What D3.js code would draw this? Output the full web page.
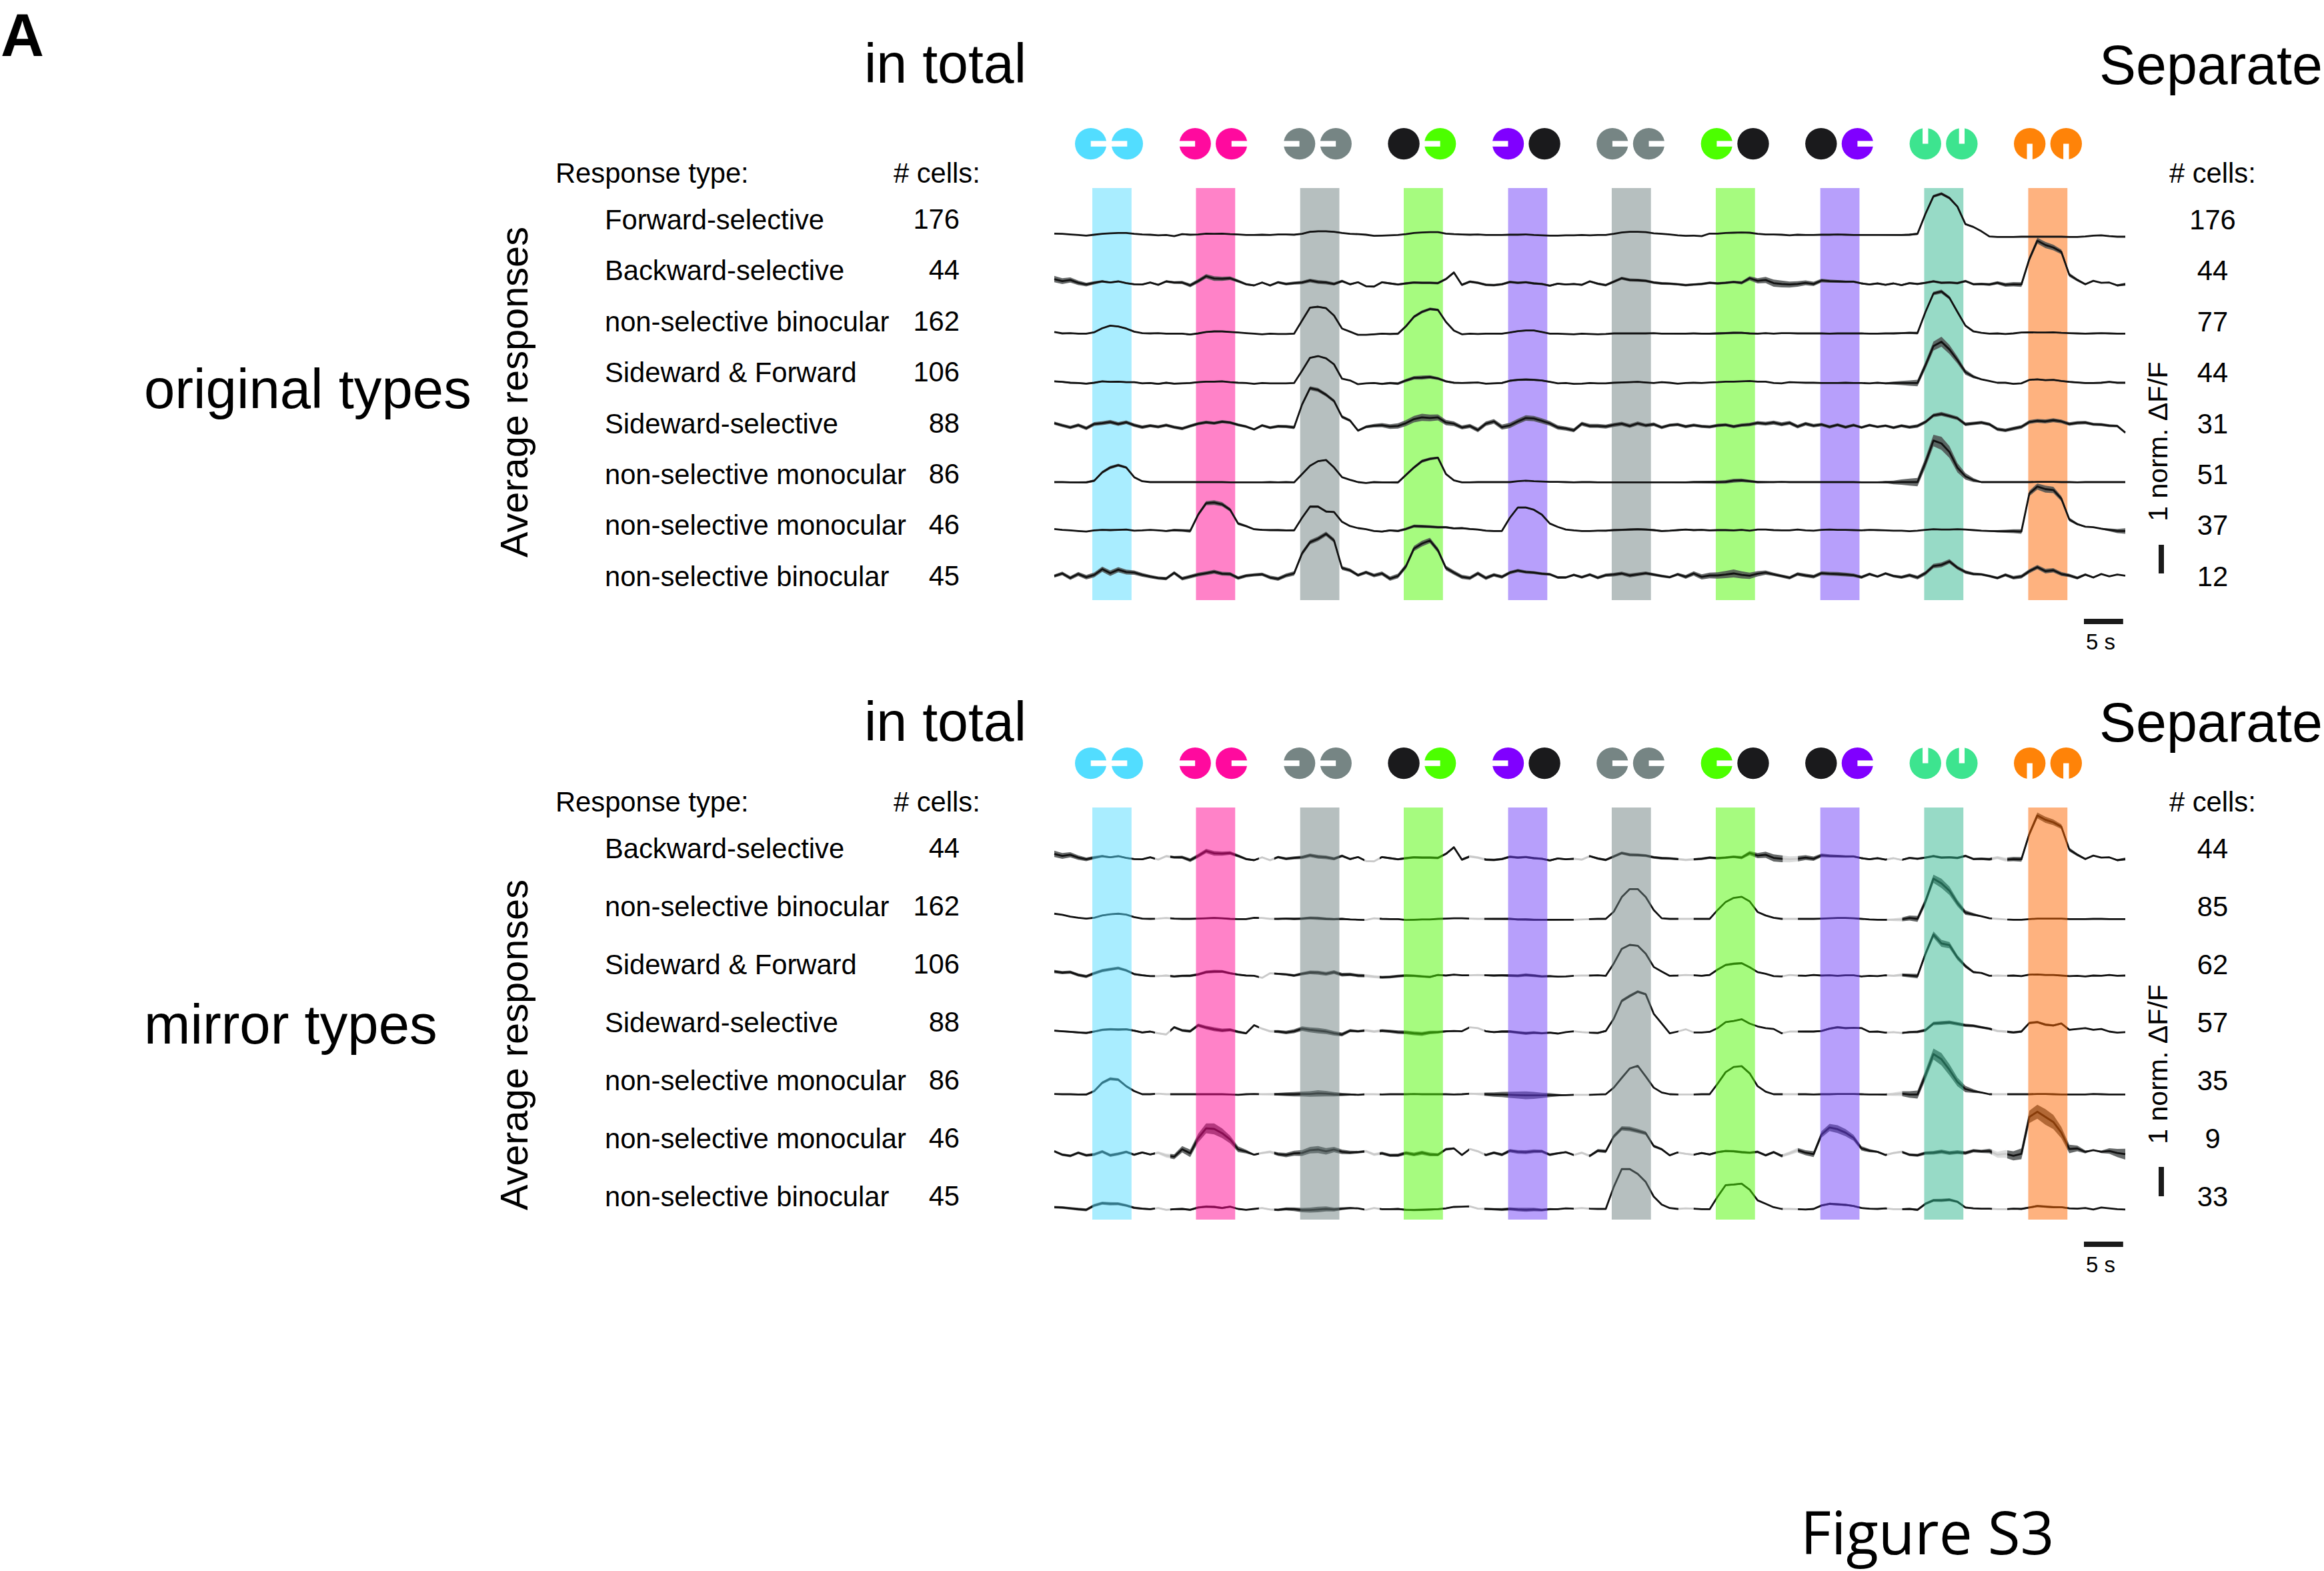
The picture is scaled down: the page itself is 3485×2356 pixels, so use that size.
<!DOCTYPE html>
<html>
<head>
<meta charset="utf-8">
<title>Figure S3</title>
<script src="https://cdn.jsdelivr.net/npm/d3@7"></script>
<style>
  body { margin: 0; background: #fff; }
  text { font-family: "Liberation Sans", Arial, sans-serif; fill: #000; }
</style>
</head>
<body>
<div id="viz"></div>
<script>
// stimulus timing, seconds from the start of the trace
const stimOnsets = [4.85, 18.07, 31.36, 44.57, 57.88, 71.1, 84.37, 97.7, 110.95, 124.22];
const stimDuration = 5;
const spliceOnsets = [12.84, 26.1, 39.55, 52.9, 66.25, 79.6, 92.9, 106.2, 119.6];
const spliceDuration = 1.95;
const sampleInterval = 136.6 / 134;

// left / right disc colour and slot direction per stimulus
const bandColors = ['#53dbff', '#ff0591', '#6d7f7f', '#4df700', '#6f3ff7', '#6d7f7f', '#4df700', '#6f3ff7', '#2fb58d', '#fd6500'];
const leftDiscColors = ['#52ddff', '#ff0a9e', '#768584', '#1a1a1c', '#8000ff', '#768584', '#4cff00', '#1a1a1c', '#3de48f', '#ff8308'];
const rightDiscColors = ['#52ddff', '#ff0a9e', '#768584', '#4cff00', '#1a1a1c', '#768584', '#1a1a1c', '#8000ff', '#3de48f', '#ff8308'];
const leftSlots = ['r', 'l', 'l', null, 'l', 'r', 'r', null, 'u', 'd'];
const rightSlots = ['l', 'r', 'l', 'l', null, 'r', null, 'r', 'u', 'd'];

const originalTypes = ['Forward-selective', 'Backward-selective', 'non-selective binocular', 'Sideward & Forward', 'Sideward-selective', 'non-selective monocular', 'non-selective monocular', 'non-selective binocular'];
const originalTotals = [176, 44, 162, 106, 88, 86, 46, 45];
const originalSeparate = [176, 44, 77, 44, 31, 51, 37, 12];
const mirrorTypes = ['Backward-selective', 'non-selective binocular', 'Sideward & Forward', 'Sideward-selective', 'non-selective monocular', 'non-selective monocular', 'non-selective binocular'];
const mirrorTotals = [44, 162, 106, 88, 86, 46, 45];
const mirrorSeparate = [44, 85, 62, 57, 35, 9, 33];

// mean responses, 1/100 norm. dF/F, one row per stimulus after the 5 lead-in samples
const origForward = [4, 3, 1, -1, -3,
  0, 3, 5, 6, 6, 3, 1, 0, -2, -1, -5, 2, 0,
  1, 4, 3, 4, 2, 1, -1, -1, 0, -1, 1, 1, 0,
  3, 10, 12, 12, 10, 6, 3, 2, 0, -4, -3, -2, -1,
  2, 6, 8, 9, 9, 4, 2, 1, 0, 1, -1, -1, -1,
  0, 0, 1, -1, -2, -3, -3, -2, -2, -1, -2, -1, -1,
  3, 8, 10, 10, 9, 5, 3, 1, -2, -4, -3, -5, 4,
  4, 6, 7, 8, 7, 3, 1, 1, 0, -2, 0, -1, -1,
  0, 0, 1, 0, -1, -1, -1, -1, -1, -1, -1, 0, 3,
  73, 134, 143, 128, 98, 37, 27, 12, -6, -8, -8, -8, -7,
  -7, -7, -7, -7, -7, -8, -8, -6, -3, -2, -5, -7, -7];
const origBackward = [15, 8, 12, 2, -4,
  2, 7, 3, 7, 1, -3, -4, 3, -5, 7, 3, 3, -7,
  8, 25, 17, 16, 18, 8, -3, -7, 3, -7, 4, -2, 1,
  3, 10, 5, 3, -2, 8, -3, 4, -10, -11, 4, 0, -4,
  0, 3, 2, 2, 1, 15, 38, -5, 6, 2, -5, -6, -3,
  5, 2, 4, 0, -2, -8, -1, -4, -2, -5, 7, -1, -6,
  6, 18, 12, 11, 9, 3, 0, -1, -3, -6, -4, -2, 2,
  0, 2, 5, 2, 18, 9, 12, 1, -2, -4, -2, 2, -2,
  10, 8, 7, 6, 6, 0, -4, 0, -5, 0, -6, 1, -2,
  2, 7, 2, 3, 1, 8, -3, -2, -4, 2, -5, -3, -4,
  85, 149, 134, 125, 110, 30, 12, -3, 9, 2, 3, -7, -3];
const origBinocularA = [5, 0, 1, -1, -1,
  4, 18, 27, 24, 17, 6, 1, 0, 1, -1, -1, -1, -4,
  0, 5, 7, 7, 5, 3, 1, -1, -3, -1, -2, -2, -1,
  45, 90, 93, 88, 62, 17, 6, -5, -5, -3, -1, -2, -1,
  25, 58, 75, 85, 82, 40, 10, -3, -1, -2, -1, -1, -1,
  3, 8, 10, 10, 5, -1, -1, -2, -3, -1, -2, -3, -2,
  0, 0, 0, 0, 0, 1, -1, -1, -1, -1, 0, -1, -1,
  0, 1, 2, 2, 0, -1, 1, -1, 1, 1, 0, 0, 0,
  0, -1, 0, 0, 0, 0, -1, -1, 0, 0, 1, 2, 1,
  75, 139, 146, 124, 75, 27, 7, 2, -1, 0, -2, 0, 3,
  4, 3, 3, 4, 2, 1, 0, -1, 0, 1, 0, -1, -1];
const origSideForward = [5, 3, 0, -1, -3,
  0, 5, 3, 4, 2, 2, -2, -1, -4, 0, -3, -2, -1,
  2, 4, 4, 5, 2, 0, -1, -4, -1, -2, -2, -2, -1,
  42, 87, 93, 85, 64, 14, 8, -5, -2, -1, -4, -1, -3,
  8, 17, 18, 20, 15, 5, 0, -1, 0, 1, -3, -2, -1,
  7, 10, 11, 10, 8, 3, -2, -1, -4, -3, -1, -2, -2,
  0, 1, 2, 3, 1, -1, 2, 0, -3, -1, 0, -1, 1,
  2, 4, 4, 5, 6, 4, 4, -1, -2, 2, 1, 0, 0,
  -1, -1, -1, 0, -1, -1, -2, 0, -2, -1, -1, -1, -1,
  61, 128, 143, 116, 79, 37, 21, 12, 6, 0, 0, -4, -2,
  10, 12, 9, 10, 6, 3, 1, -1, -1, 0, 3, 0, 0];
const origSideward = [8, 0, -7, 1, -10,
  5, 8, 12, 5, 11, 1, -6, -1, -5, 1, -6, -11, -2,
  6, 11, 8, 13, 10, 2, -4, -14, 0, -8, -3, -4, -7,
  73, 130, 124, 107, 85, 30, 17, -18, -5, -1, 1, -4, -2,
  8, 22, 28, 26, 28, 10, 6, -7, -2, -16, 6, 14, -6,
  0, 14, 26, 24, 16, 7, -7, -11, -17, 6, -2, -2, -4,
  2, 6, -2, 7, 0, 4, -7, 1, 3, -4, 1, -3, -5,
  0, 2, -4, 1, 3, 9, 6, 10, 4, 9, -4, 6, -1,
  3, -5, 2, -6, 1, -7, 1, -5, -1, -8, -1, -6, -2,
  12, 35, 40, 33, 25, 4, 7, 10, 4, -13, -17, -11, -5,
  12, 16, 14, 18, 14, 5, 9, 10, 4, 3, -1, -2, -25];
const origMonocularA = [0, 0, -1, -1, -1,
  5, 34, 51, 59, 51, 17, 3, 0, 0, 0, 0, 0, 0,
  0, 0, 0, 0, -1, -1, -1, -1, -1, 0, -1, 0, -1,
  28, 57, 73, 77, 51, 17, 8, 0, -3, 0, -1, -1, -1,
  25, 51, 73, 81, 85, 28, 6, -1, -1, 0, 0, 0, 0,
  0, 3, 5, 3, 2, 1, 1, 0, -1, 0, 0, -1, -1,
  -1, -1, -1, -1, -1, -1, -1, -1, -1, -1, 0, 0, 0,
  0, 1, 5, 6, 3, 0, 0, 0, 1, 0, 0, 0, 0,
  0, 0, 0, 0, 0, -1, -1, -1, 0, -1, 0, 0, 0,
  68, 145, 135, 105, 50, 20, 7, 0, 0, 0, 0, 0, 0,
  0, 1, 1, 1, 0, 0, -1, 0, 0, 0, 0, 0, 0];
const origMonocularB = [4, 1, -1, -3, -5,
  -1, 1, 0, 1, 2, -2, -1, 1, -1, -3, 0, -1, -3,
  54, 94, 96, 90, 71, 23, 14, 3, 1, 0, 0, -1, -1,
  43, 82, 82, 65, 63, 29, 14, 7, 3, -3, -5, -1, -3,
  4, 14, 13, 12, 10, 10, 6, 7, 4, 2, -2, -3, -3,
  43, 79, 79, 71, 54, 23, 11, 2, -1, -3, -3, -2, -2,
  0, 1, 2, 3, 2, 0, -3, -2, 0, 2, 0, 1, -1,
  0, 0, -1, 1, -2, 2, 2, 0, -1, -1, 2, -1, -2,
  1, 2, 1, 1, 0, -1, 1, 0, -1, -2, -2, -4, -2,
  1, 3, 2, 2, 3, 2, 0, -2, -3, -4, -4, -4, -5,
  128, 152, 143, 140, 110, 37, 21, 12, 10, 5, 1, -3, -3];
const origBinocularB = [-2, 7, -9, 5, -6,
  2, 22, 8, 20, 12, 10, 2, -4, -9, -11, 9, -11, -4,
  3, 8, 13, 6, 5, -9, -1, 2, 4, -7, -12, 0, 7,
  77, 116, 128, 145, 122, 26, 18, 1, 11, 0, 7, -11, -2,
  32, 94, 111, 122, 88, 26, 10, -5, -9, 7, -9, 2, -5,
  10, 17, 12, 10, 6, 4, -7, -7, 2, -6, 3, -8, 1,
  3, 7, 0, 4, 8, 3, -2, -6, 4, -5, 7, -5, 0,
  0, 3, 7, 2, -1, 6, 10, 4, -2, -8, 5, 0, -4,
  8, 6, 5, 3, 1, -6, 5, -4, 7, -2, -6, 1, -7,
  8, 33, 37, 49, 27, 12, 5, 4, -2, -9, 2, -8, -4,
  15, 29, 15, 18, 5, 0, -9, 3, -7, 5, -3, 3, -1];

const mirrorBinocularA = [18, 14, 8, 4, 1,
  4, 12, 16, 18, 15, 6, 1, 0, 1, 3, 1, 0, 0,
  1, 2, 3, 2, 0, -1, -1, 4, 3, 0, 0, 1, 0,
  1, 3, 2, 0, -1, 0, -2, -3, -4, 2, 0, -1, -1,
  -4, -3, -2, -2, 0, 1, 2, 2, 1, 0, 0, 0, 0,
  0, -2, -2, -3, -3, -3, -3, -3, -3, -2, -1, 0, 0,
  25, 76, 104, 104, 76, 31, 2, 0, 0, 0, 0, 0, 0,
  31, 59, 73, 77, 61, 24, 12, 4, 0, 0, 0, 0, 0,
  1, 2, 3, 3, 2, 0, -2, -3, -3, -3, -2, 3, 0,
  61, 140, 124, 98, 55, 22, 15, 9, 2, 0, -2, -3, -3,
  -1, 1, 1, 1, 1, -1, -1, -1, 0, 0, -1, -1, -1];
const mirrorSideForward = [14, 10, 12, 2, -3,
  8, 17, 22, 26, 18, 5, 1, -2, -2, 0, -3, -1, -1,
  4, 12, 14, 14, 8, 3, 0, -1, -8, 8, 6, 4, 0,
  6, 11, 10, 6, 12, 3, 4, 0, -1, -4, -6, -5, -2,
  0, -1, -3, -5, 2, 0, 3, 1, 1, 2, 1, 0, 1,
  0, -1, 2, 0, -3, -2, -4, -3, -1, 0, 0, 1, -1,
  42, 93, 107, 104, 76, 30, 14, -1, 0, 2, 1, -1, 2,
  21, 37, 41, 43, 29, 12, 6, -2, -3, 2, 0, -1, 2,
  0, 1, -1, 1, 1, -3, -1, -2, 1, -1, 2, 0, -2,
  76, 143, 112, 106, 63, 33, 12, 9, -1, 0, -1, 0, -2,
  3, 4, 2, 2, 0, -2, -1, -3, 0, -1, 2, -1, 0];
const mirrorSideward = [3, 1, -1, -3, -5,
  0, 6, 8, 7, 8, 3, -3, 0, -6, -10, 15, 4, 1,
  22, 14, 8, 4, 6, -1, -6, 22, 10, 1, 0, -3, 1,
  10, 6, 3, 0, -6, -10, 3, 1, 4, 0, 3, 1, -2,
  -3, -6, -8, -3, -2, 1, 2, 1, 15, 12, 1, -2, 0,
  0, -3, -6, -4, -6, -4, -7, -2, 1, -2, -4, -5, 2,
  45, 107, 124, 139, 130, 62, 28, -6, 0, 8, -3, -3, -1,
  12, 33, 37, 43, 28, 18, 12, 9, -6, 0, 0, 0, 0,
  2, 10, 15, 12, 13, 12, -1, 0, -4, -2, -5, -2, -1,
  5, 28, 30, 32, 27, 22, 20, 15, 10, 2, 0, -3, 0,
  30, 33, 24, 21, 28, 6, 9, 12, 6, 9, 0, -4, -2];
const mirrorMonocularA = [1, 0, 0, -1, -1,
  11, 40, 54, 51, 28, 11, 0, 0, 2, 0, 0, 0, 0,
  0, 0, 0, 0, -1, -2, 0, 1, 0, 0, 0, 0, 0,
  1, 1, 3, 2, 0, -1, -1, -2, 0, 0, -1, 0, 0,
  0, 1, 0, 0, 0, 0, -1, 0, 2, 1, 0, -1, -1,
  -2, -3, -4, -4, -4, -3, -3, -3, -2, -2, -2, -1, 0,
  23, 57, 90, 99, 62, 23, 6, 0, -1, -1, -1, 0, 0,
  37, 77, 95, 98, 73, 28, 9, 0, 0, 0, 0, 0, -1,
  0, 0, 1, 1, 1, 0, -1, -1, -1, 0, 2, -1, -1,
  67, 140, 122, 85, 43, 18, 11, 6, 0, 0, 0, 0, 0,
  0, 1, 1, 0, -1, -1, -1, -1, 1, 0, -1, -1, -1];
const mirrorMonocularB = [8, -4, -8, 3, -6,
  -3, 7, -6, -1, 6, -4, 4, -3, 3, -7, -11, 15, 1,
  54, 88, 86, 71, 49, 15, 7, -4, 2, 6, -2, -5, 1,
  2, 12, 14, 8, 14, 6, 4, 5, 8, -3, 1, -6, -6,
  2, -3, 3, -3, -4, 15, 18, -5, 16, 8, -5, 3, -4,
  10, 6, 5, 8, 8, -4, 1, 5, -5, 3, -8, 10, 8,
  60, 88, 86, 79, 71, 26, 15, -6, 4, -1, -4, 2, -3,
  5, 9, 8, 5, 3, 6, -6, 5, -8, 1, 12, 3, -2,
  67, 91, 85, 73, 55, 18, 10, 6, -5, 2, 6, -4, -6,
  2, 3, 7, 2, 5, 2, 10, 8, 9, -4, -1, -8, -1,
  128, 146, 128, 110, 73, 16, 18, 6, 12, 6, 9, 2, -2];
const mirrorBinocularB = [6, 5, 2, -1, -3,
  12, 20, 18, 18, 12, 4, 1, -1, 3, -3, -1, 0, -3,
  5, 8, 7, 3, 8, 0, -3, 0, 3, -2, -3, 0, -1,
  -4, -4, -2, 0, -2, 1, 3, 2, -3, 3, -1, -1, 0,
  -3, -4, -3, -2, -1, 2, 7, 8, 9, 1, 0, -1, -2,
  0, -2, -3, -2, -4, -1, -1, 2, 1, 3, 1, 0, 0,
  77, 139, 139, 122, 94, 43, 15, 3, 0, 2, 1, -1, -1,
  43, 83, 85, 88, 67, 30, 18, 6, 0, 0, -1, -2, 0,
  12, 18, 16, 14, 10, 3, 1, 0, 2, -1, -1, 0, -3,
  18, 30, 30, 32, 25, 5, 2, 1, 1, -1, -1, 1, 0,
  5, 10, 8, 6, 6, 2, 1, 3, -2, 5, 2, -1, -2];

// s.e.m. half widths: lead-in, then stimulus / gap for each of the 10 stimuli
const seForward = [1, 1, 1, 1, 1, 2, 1, 1, 1, 1, 1, 1, 1, 1, 1, 1, 1, 4, 1, 1, 1];
const seBackward = [8, 2, 2, 6, 2, 5, 2, 3, 3, 3, 2, 4, 3, 3, 9, 3, 2, 3, 3, 8, 2];
const seBinocularA = [1, 2, 1, 2, 1, 2, 1, 4, 1, 2, 1, 1, 1, 3, 1, 1, 1, 5, 1, 1, 1];
const seSideForward = [2, 2, 2, 2, 1, 2, 1, 5, 1, 3, 1, 2, 1, 1, 1, 1, 1, 13, 1, 2, 2];
const seSideward = [4, 5, 4, 4, 3, 5, 3, 9, 5, 7, 5, 5, 4, 4, 5, 4, 3, 5, 4, 5, 4];
const seMonocularA = [1, 4, 1, 1, 1, 2, 1, 4, 1, 1, 1, 1, 1, 5, 1, 1, 1, 17, 1, 1, 1];
const seMonocularB = [1, 2, 1, 6, 2, 3, 1, 4, 2, 2, 1, 3, 2, 2, 1, 1, 1, 1, 1, 9, 1];
const seBinocularB = [4, 7, 4, 5, 4, 6, 4, 7, 5, 4, 3, 5, 3, 10, 4, 5, 3, 6, 3, 6, 3];
const seMirrorBinocularA = [1, 2, 1, 2, 1, 4, 1, 2, 1, 3, 1, 1, 1, 1, 1, 1, 1, 12, 1, 1, 1];
const seMirrorSideForward = [4, 4, 2, 4, 1, 5, 4, 3, 1, 4, 1, 2, 1, 3, 1, 2, 1, 9, 1, 2, 1];
const seMirrorSideward = [2, 3, 2, 5, 2, 7, 3, 5, 1, 4, 1, 4, 1, 2, 1, 3, 1, 5, 3, 3, 1];
const seMirrorMonocularA = [1, 4, 1, 1, 1, 8, 1, 1, 1, 10, 1, 1, 1, 1, 1, 1, 1, 16, 1, 1, 1];
const seMirrorMonocularB = [3, 4, 2, 14, 2, 9, 3, 5, 2, 5, 2, 6, 2, 3, 3, 10, 2, 5, 4, 20, 3];
const seMirrorBinocularB = [3, 4, 2, 3, 1, 7, 1, 3, 1, 5, 1, 2, 1, 2, 1, 3, 1, 4, 1, 3, 1];

const originalTraces = [origForward, origBackward, origBinocularA, origSideForward, origSideward, origMonocularA, origMonocularB, origBinocularB];
const originalSe = [seForward, seBackward, seBinocularA, seSideForward, seSideward, seMonocularA, seMonocularB, seBinocularB];
const mirrorTraces = [origBackward, mirrorBinocularA, mirrorSideForward, mirrorSideward, mirrorMonocularA, mirrorMonocularB, mirrorBinocularB];
const mirrorSe = [seBackward, seMirrorBinocularA, seMirrorSideForward, seMirrorSideward, seMirrorMonocularA, seMirrorMonocularB, seMirrorBinocularB];

// layout
const width = 3485;
const height = 2356;
const labelSize = 41.7;
const titleSize = 82.5;
const traceColor = '#111';
const ribbonColor = '#4c5050';
const seGain = 1.4;

const panels = [
  {
    name: 'original types', nameY: 612, titleY: 124, sepY: 126, discY: 215.6, headerY: 273,
    bandTop: 282, bandBottom: 900, avgMid: 588,
    rowFirst: 344, rowStep: 76.4,
    traceY: [352, 425, 500, 574, 638, 723, 795, 863],
    dffMid: 662, dffBar: [817, 860], timeBarY: 932, timeLabelY: 974,
    types: originalTypes, totals: originalTotals, separate: originalSeparate,
    traces: originalTraces, se: originalSe, mirror: false,
  },
  {
    name: 'mirror types', nameY: 1565, titleY: 1111, sepY: 1112, discY: 1144.6, headerY: 1216,
    bandTop: 1211, bandBottom: 1829, avgMid: 1567,
    rowFirst: 1287, rowStep: 87,
    traceY: [1287, 1378, 1463, 1547, 1641, 1730, 1813],
    dffMid: 1596, dffBar: [1750, 1794], timeBarY: 1866, timeLabelY: 1908,
    types: mirrorTypes, totals: mirrorTotals, separate: mirrorSeparate,
    traces: mirrorTraces, se: mirrorSe, mirror: true,
  },
];

const timeScale = d3.scaleLinear().domain([0, 136.6]).range([1581, 3187]);
const discScale = d3.scaleLinear().domain([0, 9]).range([1663, 3071]);
const ampScale = d3.scaleLinear().domain([0, 100]).range([0, -43]);
const discRadius = 23.7;
const discGap = 27.3;

// s.e.m. knots sit at lead-in start, then mid stimulus / just after stimulus
const seKnots = [0];
stimOnsets.forEach((t) => {
  seKnots.push(t + (stimDuration / 2));
  seKnots.push(t + stimDuration + 2.5);
});

const svg = d3.select('#viz').append('svg')
  .attr('width', width)
  .attr('height', height)
  .style('display', 'block');

svg.append('text')
  .text('A')
  .attr('x', 1)
  .attr('y', 84)
  .style('font-size', '90px')
  .style('font-weight', 'bold');

function drawBands(g, panel) {
  g.append('g').selectAll('rect')
    .data(stimOnsets)
    .enter()
    .append('rect')
    .attr('x', d => timeScale(d))
    .attr('y', panel.bandTop)
    .attr('width', timeScale(stimDuration) - timeScale(0))
    .attr('height', panel.bandBottom - panel.bandTop)
    .style('fill', (d, i) => bandColors[i])
    .style('fill-opacity', 0.5);
}

function drawTraces(g, panel) {
  panel.traces.forEach((values, row) => {
    const seScale = d3.scaleLinear().domain(seKnots).range(panel.se[row]);
    const points = values.map((v, i) => ({ t: i * sampleInterval, v }));
    const area = d3.area()
      .x(d => timeScale(d.t))
      .y0(d => ampScale(d.v - (seGain * seScale(d.t))))
      .y1(d => ampScale(d.v + (seGain * seScale(d.t))));
    const line = d3.line()
      .x(d => timeScale(d.t))
      .y(d => ampScale(d.v));
    const traceG = g.append('g')
      .attr('class', 'trace')
      .attr('transform', `translate(0, ${panel.traceY[row]})`);
    traceG.append('path')
      .datum(points)
      .attr('d', area)
      .style('fill', ribbonColor)
      .style('fill-opacity', 0.85);
    traceG.append('path')
      .datum(points)
      .attr('d', line)
      .attr('fill', 'none')
      .attr('stroke', traceColor)
      .attr('stroke-width', 2.8)
      .attr('stroke-linejoin', 'round');
  });
}

function drawDiscs(g, panel) {
  const sides = [
    { offset: -discGap, colors: leftDiscColors, slots: leftSlots },
    { offset: discGap, colors: rightDiscColors, slots: rightSlots },
  ];
  sides.forEach((side) => {
    stimOnsets.forEach((t, i) => {
      const cx = discScale(i) + side.offset;
      const cy = panel.discY;
      g.append('circle')
        .attr('cx', cx)
        .attr('cy', cy)
        .attr('r', discRadius)
        .style('fill', side.colors[i]);
      const dir = side.slots[i];
      if (!dir) return;
      const len = discRadius + 1;
      const thick = 8.4;
      const horizontal = dir === 'l' || dir === 'r';
      g.append('rect')
        .attr('x', horizontal ? (dir === 'r' ? cx : cx - len) : cx - (thick / 2))
        .attr('y', horizontal ? cy - (thick / 2) : (dir === 'd' ? cy : cy - len))
        .attr('width', horizontal ? len : thick)
        .attr('height', horizontal ? thick : len)
        .style('fill', '#fff');
    });
  });
}

panels.forEach((panel) => {
  const g = svg.append('g').attr('class', 'panel');

  // the mirror panel has its colour bands laid over the traces
  if (!panel.mirror) drawBands(g, panel);
  drawTraces(g, panel);
  if (panel.mirror) {
    g.append('g').selectAll('rect')
      .data(spliceOnsets)
      .enter()
      .append('rect')
      .attr('x', d => timeScale(d))
      .attr('y', panel.bandTop)
      .attr('width', timeScale(spliceDuration) - timeScale(0))
      .attr('height', panel.bandBottom - panel.bandTop)
      .style('fill', '#fff')
      .style('fill-opacity', 0.78);
    drawBands(g, panel);
  }
  drawDiscs(g, panel);

  g.append('text')
    .text(panel.name)
    .attr('x', 216)
    .attr('y', panel.nameY)
    .style('font-size', '83.3px');
  g.append('text')
    .text('in total')
    .attr('x', 1296)
    .attr('y', panel.titleY)
    .style('font-size', `${titleSize}px`);
  g.append('text')
    .text('Separate')
    .attr('x', 3148)
    .attr('y', panel.sepY)
    .style('font-size', `${titleSize}px`);
  g.append('text')
    .text('Average responses')
    .attr('transform', `translate(791, ${panel.avgMid}) rotate(-90)`)
    .style('text-anchor', 'middle')
    .style('font-size', '57.7px');

  g.append('text')
    .text('Response type:')
    .attr('x', 833)
    .attr('y', panel.headerY + 1)
    .style('font-size', `${labelSize}px`);
  g.append('text')
    .text('# cells:')
    .attr('x', 1340)
    .attr('y', panel.headerY + 1)
    .style('font-size', `${labelSize}px`);
  g.append('text')
    .text('# cells:')
    .attr('x', 3253)
    .attr('y', panel.headerY + 1)
    .style('font-size', `${labelSize}px`);

  const rowY = i => panel.rowFirst + (i * panel.rowStep);
  g.append('g').selectAll('text')
    .data(panel.types)
    .enter()
    .append('text')
    .text(d => d)
    .attr('x', 907)
    .attr('y', (d, i) => rowY(i))
    .style('font-size', `${labelSize}px`);
  g.append('g').selectAll('text')
    .data(panel.totals)
    .enter()
    .append('text')
    .text(d => d)
    .attr('x', 1439)
    .attr('y', (d, i) => rowY(i) - 1)
    .style('text-anchor', 'end')
    .style('font-size', `${labelSize}px`);
  g.append('g').selectAll('text')
    .data(panel.separate)
    .enter()
    .append('text')
    .text(d => d)
    .attr('x', 3318)
    .attr('y', (d, i) => rowY(i))
    .style('text-anchor', 'middle')
    .style('font-size', `${labelSize}px`);

  g.append('text')
    .text('1 norm. ΔF/F')
    .attr('transform', `translate(3250, ${panel.dffMid}) rotate(-90)`)
    .style('text-anchor', 'middle')
    .style('font-size', '41px');
  g.append('line')
    .attr('x1', 3241)
    .attr('x2', 3241)
    .attr('y1', panel.dffBar[0])
    .attr('y2', panel.dffBar[1])
    .attr('stroke', '#1a1a1a')
    .attr('stroke-width', 8);
  g.append('line')
    .attr('x1', 3125)
    .attr('x2', 3125 + (timeScale(stimDuration) - timeScale(0)))
    .attr('y1', panel.timeBarY)
    .attr('y2', panel.timeBarY)
    .attr('stroke', '#1a1a1a')
    .attr('stroke-width', 8);
  g.append('text')
    .text('5 s')
    .attr('x', 3128)
    .attr('y', panel.timeLabelY)
    .style('font-size', '33px');
});

svg.append('text')
  .text('Figure S3')
  .attr('x', 2700)
  .attr('y', 2331)
  .style('font-family', '"Open Sans", sans-serif')
  .style('font-size', '89px');
</script>
</body>
</html>
